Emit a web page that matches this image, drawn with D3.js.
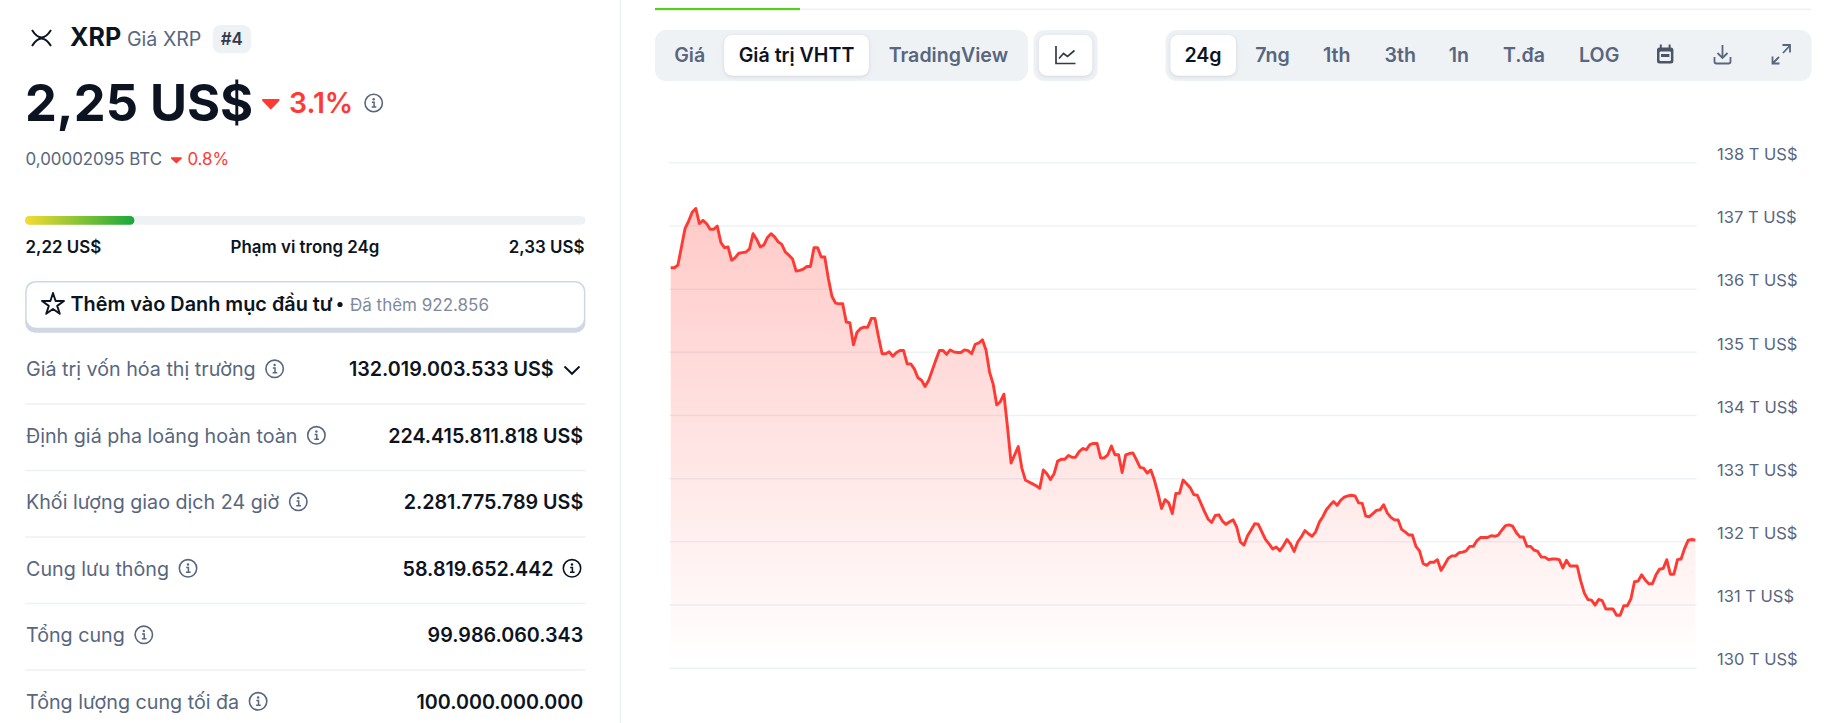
<!DOCTYPE html>
<html>
<head>
<meta charset="utf-8">
<script src="https://cdn.jsdelivr.net/npm/d3@7"></script>
<style>
body { margin: 0; background: #fff; }
svg { display: block; }
text { font-family: Inter, "Noto Sans", sans-serif; }
</style>
</head>
<body>
<div id="page"></div>
<script>
// market cap in T US$, one reading every 5 minutes over 24g
var capValues = [
136.33,136.33,136.37,136.66,136.95,137.07,137.21,137.27,137.03,137.08,137.03,136.94,136.94,136.99,136.73,136.65,136.66,136.45,136.49,136.56,
136.57,136.58,136.63,136.87,136.78,136.66,136.69,136.81,136.87,136.82,136.74,136.70,136.58,136.53,136.47,136.28,136.29,136.31,136.35,136.35,
136.65,136.65,136.50,136.50,136.16,135.88,135.77,135.76,135.76,135.47,135.46,135.11,135.31,135.37,135.39,135.39,135.53,135.53,135.24,134.97,
134.97,135.00,134.93,134.99,135.02,135.02,134.81,134.81,134.73,134.59,134.55,134.45,134.55,134.71,134.87,135.02,135.02,134.96,135.03,135.00,
134.99,134.99,135.03,135.02,134.97,135.12,135.14,135.19,135.03,134.68,134.49,134.16,134.21,134.33,133.81,
133.24,133.37,133.50,133.16,132.97,132.94,132.91,132.88,132.84,133.13,133.07,132.98,133.07,133.27,133.30,133.30,133.36,133.33,133.33,133.42,
133.47,133.45,133.53,133.55,133.55,133.32,133.32,133.37,133.51,133.37,133.37,133.09,133.37,133.39,133.40,133.29,133.17,133.16,133.08,133.13,
132.97,132.76,132.52,132.66,132.61,132.44,132.76,132.76,132.97,132.91,132.85,132.74,132.73,132.60,132.47,132.35,132.30,132.41,132.42,132.32,
132.27,132.31,132.34,132.22,131.99,131.94,132.09,132.18,132.28,132.27,132.15,132.03,131.96,131.88,131.91,131.85,131.93,132.03,131.96,131.84,
131.99,132.07,132.17,132.12,132.08,132.15,132.30,132.39,132.50,132.57,132.63,132.57,132.65,132.70,132.72,
132.73,132.72,132.61,132.60,132.40,132.39,132.44,132.49,132.50,132.58,132.45,132.38,132.34,132.34,132.19,132.15,132.10,132.10,131.92,131.85,
131.65,131.62,131.67,131.67,131.71,131.54,131.63,131.73,131.77,131.77,131.82,131.83,131.85,131.92,131.92,132.01,132.06,132.06,132.06,132.09,
132.08,132.10,132.18,132.25,132.26,132.24,132.14,132.07,132.07,131.92,131.92,131.86,131.84,131.75,131.75,131.71,131.72,131.72,131.71,131.58,
131.70,131.61,131.61,131.61,131.37,131.18,131.08,131.07,130.99,131.08,131.06,130.93,130.93,130.93,130.83,130.83,130.98,130.98,131.09,131.36,
131.37,131.47,131.39,131.33,131.33,131.47,131.56,131.57,131.71,131.48,131.48,131.71,131.72,131.89,132.02,132.03,132.02
];
var capTicks = [130, 131, 132, 133, 134, 135, 136, 137, 138];

var statLabels = ['Giá trị vốn hóa thị trường', 'Định giá pha loãng hoàn toàn', 'Khối lượng giao dịch 24 giờ', 'Cung lưu thông', 'Tổng cung', 'Tổng lượng cung tối đa'];
var statValues = ['132.019.003.533 US$', '224.415.811.818 US$', '2.281.775.789 US$', '58.819.652.442', '99.986.060.343', '100.000.000.000'];
var viewTabs = ['Giá', 'Giá trị VHTT', 'TradingView'];
var rangeTabs = ['24g', '7ng', '1th', '3th', '1n', 'T.đa', 'LOG'];

var DARK = '#0d1421', GREY = '#58667e', LIGHT = '#eff2f5', RED = '#ff3a33';

var svg = d3.select('#page').append('svg')
	.attr('width', 1831)
	.attr('height', 723);

var defs = svg.append('defs');
var areaGrad = defs.append('linearGradient').attr('id', 'areaGrad')
	.attr('gradientUnits', 'userSpaceOnUse')
	.attr('x1', 0).attr('x2', 0).attr('y1', 208).attr('y2', 664);
areaGrad.append('stop').attr('offset', 0).attr('stop-color', RED).attr('stop-opacity', 0.27);
areaGrad.append('stop').attr('offset', 0.5).attr('stop-color', RED).attr('stop-opacity', 0.14);
areaGrad.append('stop').attr('offset', 1).attr('stop-color', RED).attr('stop-opacity', 0);
var rangeGrad = defs.append('linearGradient').attr('id', 'rangeGrad');
rangeGrad.append('stop').attr('offset', 0).attr('stop-color', '#f6dc2f');
rangeGrad.append('stop').attr('offset', 1).attr('stop-color', '#16a93c');

// small helper for every plain text on the page
function label(parent, str, x, y, size, weight, color, anchor) {
	return parent.append('text')
		.attr('x', x).attr('y', y)
		.attr('font-size', size)
		.attr('font-weight', weight)
		.attr('fill', color)
		.attr('text-anchor', anchor || 'start')
		.text(str);
}

function infoIcon(cx, cy, color) {
	var g = svg.append('g').attr('transform', 'translate(' + cx + ',' + cy + ')');
	g.append('circle').attr('r', 8.7).attr('fill', 'none').attr('stroke', color).attr('stroke-width', 1.6);
	g.append('circle').attr('cy', -3.8).attr('r', 1.2).attr('fill', color);
	g.append('path').attr('d', 'M-1.8-.8H.4V3.8M-2 4H2.6').attr('fill', 'none').attr('stroke', color).attr('stroke-width', 1.5);
}

function pill(x0, x1, y0, y1, r, fill, shadow) {
	var rect = svg.append('rect')
		.attr('x', x0).attr('y', y0)
		.attr('width', x1 - x0).attr('height', y1 - y0)
		.attr('rx', r)
		.attr('fill', fill);
	if (shadow) rect.style('filter', 'drop-shadow(0 1px 2px rgba(88,102,126,.2))');
	return rect;
}

function downTriangle(x0, x1, y0, y1, r) {
	svg.append('path')
		.attr('d', 'M' + (x0 + r) + ' ' + (y0 + r) + 'H' + (x1 - r) + 'L' + ((x0 + x1) / 2) + ' ' + (y1 - r) + 'Z')
		.attr('fill', RED).attr('stroke', RED)
		.attr('stroke-width', 2 * r).attr('stroke-linejoin', 'round');
}

// ---- left panel ----
svg.append('path')
	.attr('d', 'M32 30Q41.5 45 51 30M32 46Q41.5 31 51 46')
	.attr('fill', 'none').attr('stroke', DARK).attr('stroke-width', 2);
label(svg, 'XRP', 70, 46, 25, 700, DARK);
label(svg, 'Giá XRP', 127, 45.5, 19.6, 400, GREY);
pill(212.7, 251, 25, 53.3, 8, LIGHT);
label(svg, '#4', 231.8, 45, 16.9, 600, '#323b4a', 'middle');

label(svg, '2,25 US$', 25, 120.7, 50.6, 700, DARK);
downTriangle(262, 279.6, 99, 109.3, 1);
label(svg, '3.1%', 289, 112.7, 28.3, 600, RED);
infoIcon(373.7, 103, GREY);

label(svg, '0,00002095 BTC', 25.5, 165, 16.9, 400, GREY);
downTriangle(170.8, 181.9, 157.3, 163.3, 0.8);
label(svg, '0.8%', 187.4, 165, 16.9, 400, RED);

pill(25, 585.6, 216, 224.7, 4.3, LIGHT);
pill(25, 134.4, 216, 224.7, 4.3, 'url(#rangeGrad)');
label(svg, '2,22 US$', 25.5, 253.3, 16.9, 600, DARK);
label(svg, 'Phạm vi trong 24g', 305, 253.3, 16.9, 600, DARK, 'middle');
label(svg, '2,33 US$', 584.4, 253.3, 16.9, 600, DARK, 'end');

pill(25.2, 585.4, 281, 332.7, 10, '#cfd6e4');
pill(26.7, 583.9, 282.5, 327.7, 9, '#fff');
svg.append('path')
	.attr('d', d3.symbol(d3.symbolStar, 150)())
	.attr('transform', 'translate(53,304.5)')
	.attr('fill', 'none').attr('stroke', DARK)
	.attr('stroke-width', 1.9).attr('stroke-linejoin', 'round');
label(svg, 'Thêm vào Danh mục đầu tư', 70.5, 311, 19.85, 600, DARK);
svg.append('circle').attr('cx', 340).attr('cy', 304.5).attr('r', 2.6).attr('fill', DARK);
label(svg, 'Đã thêm 922.856', 350, 311, 17, 400, '#808a9d');

var rowH = 66.5;
statLabels.forEach(function(d, i) {
	var base = 376 + rowH * i;
	var t = label(svg, d, 26, base, 19.7, 400, GREY);
	infoIcon(26 + t.node().getComputedTextLength() + 19, base - 7.2, GREY);
	// the first and fourth rows give up their right edge to an icon
	var right = (i === 0 || i === 3) ? 553.6 : 583.2;
	label(svg, statValues[i], right, base, 19.7, 600, DARK, 'end');
	if (i < statLabels.length - 1) {
		svg.append('rect').attr('x', 25).attr('y', base + 27.2)
			.attr('width', 560.6).attr('height', 1.6).attr('fill', LIGHT);
	}
});
svg.append('path').attr('d', 'M564.5 366.5L572 373.8L579.5 366.5')
	.attr('fill', 'none').attr('stroke', DARK).attr('stroke-width', 1.9);
infoIcon(572, 568.3, DARK);

svg.append('rect').attr('x', 619.5).attr('y', 0).attr('width', 1.4).attr('height', 723).attr('fill', LIGHT);

// ---- tab bars ----
svg.append('rect').attr('x', 800).attr('y', 8.5).attr('width', 1011.6).attr('height', 1.6).attr('fill', LIGHT);
svg.append('rect').attr('x', 655).attr('y', 8).attr('width', 145).attr('height', 2.2).attr('fill', '#5dcb20');

pill(655, 1028, 30, 81, 11, LIGHT);
pill(724.2, 868.9, 35, 75.7, 8, '#fff', true);
var viewCenters = [689.7, 796.5, 948.4];
viewTabs.forEach(function(d, i) {
	label(svg, d, viewCenters[i], 62.3, 19.6, 600, i === 1 ? DARK : GREY, 'middle');
});

pill(1033.4, 1097.7, 30, 81, 11, LIGHT);
pill(1038.8, 1092.3, 35, 75.7, 8, '#fff', true);
svg.append('path')
	.attr('d', 'M1056 46V63.5H1075.5M1059 58.5L1063.5 53.5L1067.5 56.5L1074.5 50.5')
	.attr('fill', 'none').attr('stroke', '#323b4a').attr('stroke-width', 1.7);

pill(1165.6, 1811.6, 30, 81, 11, LIGHT);
pill(1170.4, 1236, 35, 75.7, 8, '#fff', true);
var rangeCenters = [1203, 1272.5, 1336.8, 1400.2, 1458.9, 1524, 1599.2];
rangeTabs.forEach(function(d, i) {
	label(svg, d, rangeCenters[i], 62.3, 19.6, 600, i === 0 ? DARK : GREY, 'middle');
});
// calendar
svg.append('rect').attr('x', 1657).attr('y', 47.5).attr('width', 16.4).attr('height', 16).attr('rx', 2.5).attr('fill', '#4a5568');
svg.append('path').attr('d', 'M1660.8 44.5V48M1669.6 44.5V48').attr('stroke', '#4a5568').attr('stroke-width', 2);
svg.append('rect').attr('x', 1659.5).attr('y', 51.5).attr('width', 11.4).attr('height', 9.5).attr('rx', 1).attr('fill', LIGHT);
svg.append('rect').attr('x', 1661).attr('y', 54).attr('width', 8.4).attr('height', 3).attr('fill', '#4a5568');
// download
svg.append('path')
	.attr('d', 'M1722.5 45V58M1717.5 53L1722.5 58L1727.5 53M1714.5 57V61.5Q1714.5 63.5 1716.5 63.5H1728.5Q1730.5 63.5 1730.5 61.5V57')
	.attr('fill', 'none').attr('stroke', GREY).attr('stroke-width', 1.8);
// expand
svg.append('path')
	.attr('d', 'M1772.5 63.5L1779 57M1772.5 56.5V63.5H1779.5M1783 53L1790 45.5M1782.5 45H1790V52.5')
	.attr('fill', 'none').attr('stroke', GREY).attr('stroke-width', 1.8);

// ---- chart ----
var x = d3.scaleLinear().domain([0, capValues.length - 1]).range([670.7, 1695.4]);
var y = d3.scaleLinear().domain([130, 138]).range([667.7, 162.3]);

var yAxis = d3.axisRight(y)
	.tickValues(capTicks)
	.tickSize(-1027.7)
	.tickFormat(function(d) { return d + ' T US$'; });

var axisG = svg.append('g')
	.attr('transform', 'translate(1696.7,0)')
	.call(yAxis);
axisG.select('.domain').remove();
axisG.selectAll('.tick line').attr('stroke', LIGHT).attr('stroke-width', 1.5);
axisG.selectAll('.tick text')
	.attr('x', 20.3)
	.attr('dy', '-0.17em')
	.attr('font-size', 16.5)
	.attr('font-family', 'Inter')
	.attr('fill', GREY);

var area = d3.area()
	.x(function(d, i) { return x(i); })
	.y0(y(130))
	.y1(function(d) { return y(d); });
var line = d3.line()
	.x(function(d, i) { return x(i); })
	.y(function(d) { return y(d); });

svg.append('path').datum(capValues)
	.attr('d', area)
	.attr('fill', 'url(#areaGrad)');
svg.append('path').datum(capValues)
	.attr('d', line)
	.attr('fill', 'none')
	.attr('stroke', RED)
	.attr('stroke-width', 2.9)
	.attr('stroke-linejoin', 'round');
</script>
</body>
</html>
